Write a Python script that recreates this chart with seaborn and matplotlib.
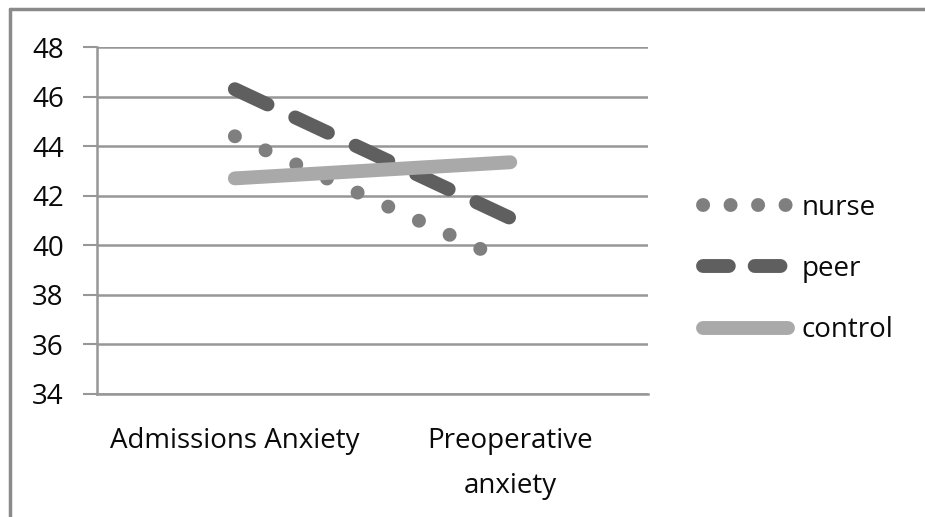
import matplotlib
matplotlib.use("Agg")
import matplotlib.pyplot as plt
import seaborn as sns
import pandas as pd

categories = ["Admissions Anxiety", "Preoperative\nanxiety"]
nurse = [44.4, 39.3]
peer = [46.3, 41.1]
control = [42.7, 43.35]
series_names = ["nurse", "peer", "control"]
yticks = [34, 36, 38, 40, 42, 44, 46, 48]

sns.set_theme(style="white")
plt.rcParams['font.family'] = ['Open Sans', 'DejaVu Sans']
plt.rcParams['text.color'] = '#111111'

fig = plt.figure(figsize=(9.25, 5.17), dpi=100)
ax = fig.add_axes([0.105, 0.238, 0.5955, 0.671])

grid_c = "#979797"
txt_c = "#0a0a0a"
fs = 20
colors = {"nurse": "#7f7f7f", "peer": "#5f5f5f", "control": "#a9a9a9"}
lw = 10
dashes = {"nurse": (0, (0.01, 2.42)), "peer": (0, (2.6, 2.2)), "control": "-"}
leg_dashes = {"nurse": (0, (0.01, 1.97)), "peer": (0, (1.86, 1.86)), "control": "-"}

data = {"nurse": nurse, "peer": peer, "control": control}
for name in series_names:
    df = pd.DataFrame({"x": [0, 1], "y": data[name]})
    sns.lineplot(data=df, x="x", y="y", ax=ax, color=colors[name], linewidth=lw,
                 label=name, zorder=3)
for line, name in zip(ax.get_lines(), series_names):
    line.set_linestyle(dashes[name])
    line.set_dash_capstyle("round")
    line.set_solid_capstyle("round")

ax.set_xlim(-0.5, 1.5)
ax.set_ylim(34, 48)
ax.set_yticks(yticks)
ax.set_yticklabels([str(v) for v in yticks], fontsize=fs, color=txt_c)
ax.set_xticks([0, 1])
ax.set_xticklabels(categories, fontsize=fs, linespacing=1.8, color=txt_c)
ax.set_xticks([-0.5, 0.5, 1.5], minor=True)
ax.tick_params(axis="x", which="major", length=0, pad=24)
ax.tick_params(axis="x", which="minor", length=10, width=1.5, color=grid_c, direction="out")
ax.tick_params(axis="y", length=10, width=1.5, color=grid_c, direction="out", pad=14, left=True)
ax.set_xlabel("")
ax.set_ylabel("")
ax.grid(axis="y", color=grid_c, linewidth=1.8)
ax.set_axisbelow(True)
for s in ["top", "right"]:
    ax.spines[s].set_visible(False)
for s in ["left", "bottom"]:
    ax.spines[s].set_color(grid_c)
    ax.spines[s].set_linewidth(1.8)

leg = ax.legend(loc="center left", bbox_to_anchor=(1.08, 0.36), frameon=False,
                fontsize=fs, handlelength=3.05, handletextpad=0.5, labelspacing=1.2,
                borderaxespad=0)
for h, name in zip(leg.get_lines(), series_names):
    h.set_linestyle(leg_dashes[name])
    h.set_dash_capstyle("round")
    h.set_solid_capstyle("round")
for t in leg.get_texts():
    t.set_color(txt_c)

# outer frame (left and top edges)
fig.add_artist(plt.Line2D([0.0103, 0.0103], [0, 0.983], transform=fig.transFigure, color="#8a8a8a", linewidth=2.5))
fig.add_artist(plt.Line2D([0.0103, 1.0], [0.983, 0.983], transform=fig.transFigure, color="#8a8a8a", linewidth=2.5))

fig.savefig("out.png", dpi=100)
